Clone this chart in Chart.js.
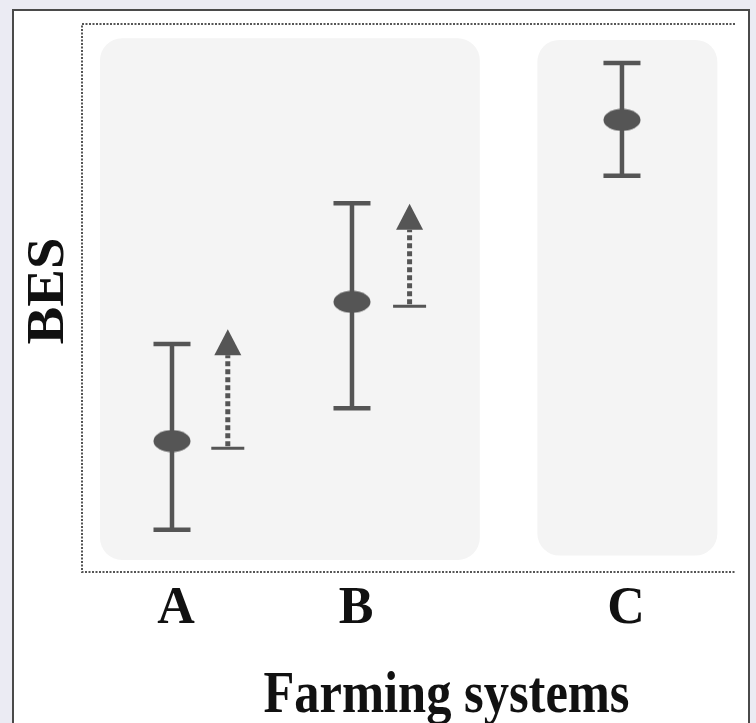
<!DOCTYPE html>
<html>
<head>
<meta charset="utf-8">
<script src="https://cdn.jsdelivr.net/npm/chart.js@4.4.1/dist/chart.umd.min.js"></script>
<style>
  html, body { margin: 0; padding: 0; background: #ebebf3; }
  #panel {
    position: absolute; left: 12px; top: 9px; width: 734px; height: 714px;
    background: #fff; border: 2px solid #4a4a4a; border-bottom: none;
  }
  #chart { position: absolute; left: 0; top: 0; }
</style>
</head>
<body>
<div id="panel"></div>
<canvas id="chart" width="756" height="723"></canvas>
<script>
// farming systems and their position on the x axis
const categories = ['A', 'B', 'C'];
const xPos = [1, 2, 3.5];

// BES values (arbitrary units)
const means = [2.39, 4.93, 8.25];
const lows = [0.77, 2.99, 7.23];
const highs = [4.16, 6.73, 9.29];

// dotted "improvement" arrows for A and B
const arrowX = [1.31, 2.32];
const arrowFrom = [2.26, 4.85];
const arrowTo = [4.43, 6.72];

// grey background groups (x ranges, y ranges)
const groupX = [[0.6, 2.71], [3.03, 4.03]];
const groupY = [[0.22, 9.74], [0.3, 9.71]];

const markColor = '#555555';
const serif = '"Liberation Serif", "DejaVu Serif", serif';

// ellipse marker used as point style
const dot = document.createElement('canvas');
dot.width = 38; dot.height = 23;
const dctx = dot.getContext('2d');
dctx.fillStyle = markColor;
dctx.beginPath();
dctx.ellipse(19, 11.5, 18.5, 11, 0, 0, Math.PI * 2);
dctx.fill();

function roundRect(ctx, x, y, w, h, r) {
    ctx.beginPath();
    ctx.moveTo(x + r, y);
    ctx.arcTo(x + w, y, x + w, y + h, r);
    ctx.arcTo(x + w, y + h, x, y + h, r);
    ctx.arcTo(x, y + h, x, y, r);
    ctx.arcTo(x, y, x + w, y, r);
    ctx.closePath();
}

function fitText(ctx, text, cx, baseY, targetW) {
    const w = ctx.measureText(text).width;
    ctx.save();
    ctx.translate(cx, baseY);
    ctx.scale(targetW / w, 1);
    ctx.textAlign = 'center';
    ctx.textBaseline = 'alphabetic';
    ctx.fillText(text, 0, 0);
    ctx.restore();
}

const decorPlugin = {
    id: 'decor',
    beforeDatasetsDraw(chart) {
        const ctx = chart.ctx;
        const xs = chart.scales.x, ys = chart.scales.y;
        const area = chart.chartArea;

        // background groups
        ctx.save();
        ctx.fillStyle = '#f4f4f4';
        groupX.forEach((g, i) => {
            const x0 = xs.getPixelForValue(g[0]), x1 = xs.getPixelForValue(g[1]);
            const y0 = ys.getPixelForValue(groupY[i][1]), y1 = ys.getPixelForValue(groupY[i][0]);
            roundRect(ctx, x0, y0, x1 - x0, y1 - y0, 22);
            ctx.fill();
        });

        // dotted frame: left, top, bottom
        ctx.strokeStyle = '#555';
        ctx.lineWidth = 2;
        ctx.setLineDash([2, 1.5]);
        ctx.beginPath();
        ctx.moveTo(area.right, area.top);
        ctx.lineTo(area.left, area.top);
        ctx.lineTo(area.left, area.bottom);
        ctx.lineTo(area.right, area.bottom);
        ctx.stroke();
        ctx.setLineDash([]);

        // error bars
        ctx.strokeStyle = markColor;
        ctx.lineWidth = 4.5;
        categories.forEach((c, i) => {
            const x = xs.getPixelForValue(xPos[i]);
            const yl = ys.getPixelForValue(lows[i]), yh = ys.getPixelForValue(highs[i]);
            ctx.beginPath();
            ctx.moveTo(x, yl); ctx.lineTo(x, yh);
            ctx.moveTo(x - 18.5, yl); ctx.lineTo(x + 18.5, yl);
            ctx.moveTo(x - 18.5, yh); ctx.lineTo(x + 18.5, yh);
            ctx.stroke();
        });

        // dotted arrows
        ctx.fillStyle = markColor;
        arrowX.forEach((ax, i) => {
            const x = xs.getPixelForValue(ax);
            const y0 = ys.getPixelForValue(arrowFrom[i]), tip = ys.getPixelForValue(arrowTo[i]);
            const base = tip + 26;
            ctx.lineWidth = 3;
            ctx.beginPath();
            ctx.moveTo(x - 16.5, y0); ctx.lineTo(x + 16.5, y0);
            ctx.stroke();
            ctx.lineWidth = 5;
            ctx.setLineDash([5, 3]);
            ctx.beginPath();
            ctx.moveTo(x, y0 - 2); ctx.lineTo(x, base);
            ctx.stroke();
            ctx.setLineDash([]);
            ctx.beginPath();
            ctx.moveTo(x, tip);
            ctx.lineTo(x + 13.5, base);
            ctx.lineTo(x - 13.5, base);
            ctx.closePath();
            ctx.fill();
        });
        ctx.restore();
    },
    afterDraw(chart) {
        const ctx = chart.ctx;
        const xs = chart.scales.x;
        const area = chart.chartArea;
        ctx.save();
        ctx.fillStyle = '#111';

        // category labels
        ctx.font = 'bold 52px ' + serif;
        ctx.textAlign = 'center';
        ctx.textBaseline = 'alphabetic';
        categories.forEach((c, i) => {
            ctx.fillText(c, xs.getPixelForValue(xPos[i]) + 4, area.bottom + 51);
        });

        // x axis title
        ctx.font = 'bold 60px ' + serif;
        fitText(ctx, 'Farming systems', (area.left + area.right) / 2 + 38, area.bottom + 140, 366);

        // y axis title
        ctx.font = 'bold 52px ' + serif;
        ctx.save();
        ctx.translate(63, (area.top + area.bottom) / 2 - 7);
        ctx.rotate(-Math.PI / 2);
        fitText(ctx, 'BES', 0, 0, 107);
        ctx.restore();

        ctx.restore();
    }
};

new Chart(document.getElementById('chart'), {
    type: 'scatter',
    data: {
        datasets: [{
            label: 'BES',
            data: xPos.map((x, i) => ({ x: x, y: means[i] })),
            pointStyle: dot,
            pointRadius: 18,
            pointHoverRadius: 18,
            backgroundColor: markColor,
            borderColor: markColor
        }]
    },
    options: {
        responsive: false,
        animation: false,
        devicePixelRatio: 1,
        layout: { padding: { left: 82, right: 21, top: 24, bottom: 151 } },
        scales: {
            x: { type: 'linear', min: 0.5, max: 4.128, display: false },
            y: { min: 0, max: 10, display: false }
        },
        plugins: {
            legend: { display: false },
            tooltip: { enabled: false }
        }
    },
    plugins: [decorPlugin]
});
</script>
</body>
</html>
